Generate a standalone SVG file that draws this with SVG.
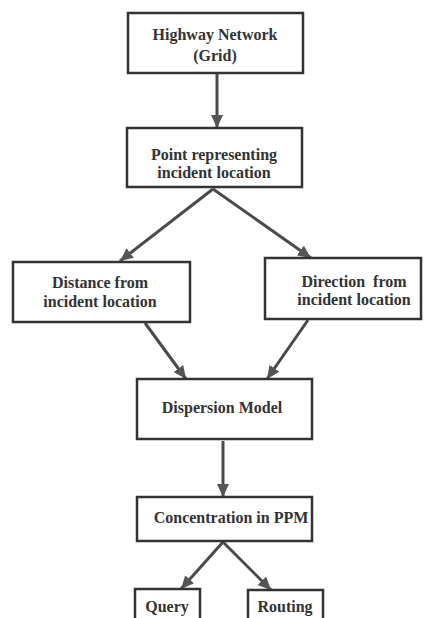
<svg xmlns="http://www.w3.org/2000/svg" width="427" height="618" viewBox="0 0 427 618">
<style>
.box{fill:#fff;stroke:#333;stroke-width:2.5}
.t{font-family:'Liberation Serif','Times New Roman','DejaVu Serif',serif;font-weight:bold;font-size:16px;fill:#333;text-anchor:middle}
.c{stroke:#4a4a4a;stroke-width:3;fill:none;marker-end:url(#ah)}
</style>
<defs>
<marker id="ah" markerUnits="userSpaceOnUse" markerWidth="14" markerHeight="12" refX="13" refY="6" orient="auto">
<path d="M0,0 L13,6 L0,12 Z" fill="#555"/>
</marker>
</defs>
<rect width="427" height="618" fill="#fff"/>
<g id="connectors">
<line class="c" x1="217" y1="74" x2="217" y2="128"/>
<line class="c" x1="213" y1="189" x2="120" y2="261"/>
<line class="c" x1="213" y1="189" x2="311" y2="258"/>
<line class="c" x1="145" y1="323" x2="186" y2="379"/>
<line class="c" x1="308" y1="320" x2="267" y2="379"/>
<line class="c" x1="223" y1="441" x2="223" y2="497"/>
<line class="c" x1="223" y1="542" x2="181" y2="589"/>
<line class="c" x1="223" y1="542" x2="271" y2="590"/>
</g>
<g id="highway">
<rect class="box" x="128" y="13" width="175" height="60"/>
<text class="t" x="215" y="40">Highway Network</text>
<text class="t" x="215" y="61">(Grid)</text>
</g>
<g id="point">
<rect class="box" x="127" y="128" width="175" height="59"/>
<text class="t" x="214" y="160">Point representing</text>
<text class="t" x="214" y="178">incident location</text>
</g>
<g id="distance">
<rect class="box" x="13" y="262" width="177" height="60"/>
<text class="t" x="100" y="288">Distance from</text>
<text class="t" x="100" y="307">incident location</text>
</g>
<g id="direction">
<rect class="box" x="265" y="258" width="156" height="61"/>
<text class="t" x="354" y="287" xml:space="preserve">Direction  from</text>
<text class="t" x="354" y="305">incident location</text>
</g>
<g id="dispersion">
<rect class="box" x="137" y="379" width="175" height="60"/>
<text class="t" x="222" y="413">Dispersion Model</text>
</g>
<g id="concentration">
<rect class="box" x="137" y="497" width="175" height="44"/>
<text class="t" x="231" y="523">Concentration in PPM</text>
</g>
<g id="query">
<rect class="box" x="135" y="589" width="65" height="40"/>
<text class="t" x="167" y="612">Query</text>
</g>
<g id="routing">
<rect class="box" x="248" y="590" width="75" height="40"/>
<text class="t" x="285" y="612">Routing</text>
</g>
</svg>
